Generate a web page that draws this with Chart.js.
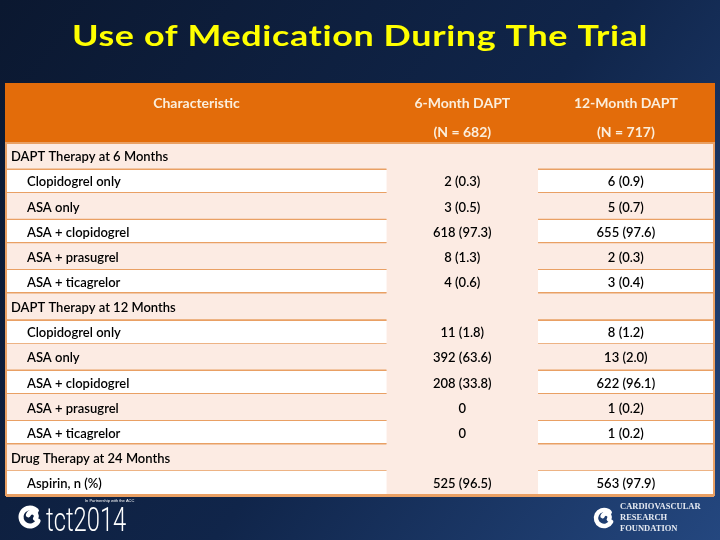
<!DOCTYPE html>
<html>
<head>
<meta charset="utf-8">
<title>Use of Medication During The Trial</title>
<script src="https://cdn.jsdelivr.net/npm/chart.js@4.4.1/dist/chart.umd.min.js"></script>
<style>
  html, body { margin: 0; padding: 0; background: #0c1a34; }
  #wrap { width: 720px; height: 540px; position: relative; }
</style>
</head>
<body>
<div id="wrap"><canvas id="chart" width="720" height="540"></canvas></div>
<script>
const titleText = 'Use of Medication During The Trial';

// table rows, top to bottom
const rowLabels = [
  'DAPT Therapy at 6 Months',
  'Clopidogrel only',
  'ASA only',
  'ASA + clopidogrel',
  'ASA + prasugrel',
  'ASA + ticagrelor',
  'DAPT Therapy at 12 Months',
  'Clopidogrel only',
  'ASA only',
  'ASA + clopidogrel',
  'ASA + prasugrel',
  'ASA + ticagrelor',
  'Drug Therapy at 24 Months',
  'Aspirin, n (%)'
];
const groupRows = [0, 6, 12];

// 6-Month DAPT, n and (%)
const sixMonthN = [null, 2, 3, 618, 8, 4, null, 11, 392, 208, 0, 0, null, 525];
const sixMonthPct = [null, 0.3, 0.5, 97.3, 1.3, 0.6, null, 1.8, 63.6, 33.8, null, null, null, 96.5];

// 12-Month DAPT, n and (%)
const twelveMonthN = [null, 6, 5, 655, 2, 3, null, 8, 13, 622, 1, 1, null, 563];
const twelveMonthPct = [null, 0.9, 0.7, 97.6, 0.3, 0.4, null, 1.2, 2.0, 96.1, 0.2, 0.2, null, 97.9];

const columnTitles = ['Characteristic', '6-Month DAPT', '12-Month DAPT'];
const columnCounts = ['', '(N = 682)', '(N = 717)'];

// layout / style
const colEdges = [0, 0.538, 0.751, 1];
const headerHeight = 59;
const ORANGE = '#e36c0a';
const LINE = '#e9a064';
const PEACH = '#fcebe3';
const FONT = 'Lato, "Open Sans", sans-serif';

const fmt = function (n, p) {
  if (n === null) return '';
  if (p === null) return String(n);
  return n + ' (' + p.toFixed(1) + ')';
};

const swirl = function (ctx, x, y, r, w) {
  ctx.save();
  ctx.strokeStyle = '#ffffff';
  ctx.lineCap = 'round';
  ctx.lineWidth = w;
  ctx.beginPath();
  ctx.arc(x, y, r, Math.PI * 0.15, Math.PI * 1.75);
  ctx.stroke();
  ctx.beginPath();
  ctx.arc(x + r * 0.25, y - r * 0.1, r * 0.45, Math.PI * 1.1, Math.PI * 0.2);
  ctx.stroke();
  ctx.restore();
};

const slidePlugin = {
  id: 'slide',
  beforeDraw: function (chart) {
    const ctx = chart.ctx;
    const area = chart.chartArea;
    const g = ctx.createLinearGradient(0, 0, 720, 540);
    g.addColorStop(0, '#0b1830');
    g.addColorStop(0.55, '#10254a');
    g.addColorStop(1, '#24477f');
    ctx.save();
    ctx.fillStyle = g;
    ctx.fillRect(0, 0, chart.width, chart.height);
    ctx.fillStyle = '#ffffff';
    ctx.fillRect(area.left, area.top, area.right - area.left, area.bottom - area.top);

    // title, stretched to the slide's title width
    ctx.fillStyle = '#ffff00';
    ctx.font = 'bold 29px ' + FONT;
    ctx.letterSpacing = '0.5px';
    ctx.textAlign = 'left';
    ctx.textBaseline = 'alphabetic';
    const tw = ctx.measureText(titleText).width;
    ctx.save();
    ctx.translate(72, 46);
    ctx.scale(576 / tw, 1);
    ctx.fillText(titleText, 0, 0);
    ctx.restore();
    ctx.letterSpacing = '0px';

    // footer: tct2014 and CRF marks
    swirl(ctx, 30, 517, 9, 5);
    ctx.fillStyle = '#ffffff';
    ctx.font = '300 33px Roboto, sans-serif';
    ctx.save();
    ctx.translate(46, 531);
    ctx.scale(0.72, 1);
    ctx.fillText('tct2014', 0, 0);
    ctx.restore();
    ctx.font = '4px sans-serif';
    ctx.fillText('In Partnership with the ACC', 85, 502);

    swirl(ctx, 604, 518, 8, 4.5);
    ctx.fillStyle = '#e6eaf2';
    ctx.font = 'bold 8.5px "Liberation Serif", serif';
    ctx.fillText('CARDIOVASCULAR', 620, 509);
    ctx.fillText('RESEARCH', 620, 520);
    ctx.fillText('FOUNDATION', 620, 531);
    ctx.restore();
  },
  afterDraw: function (chart) {
    const ctx = chart.ctx;
    const area = chart.chartArea;
    const x = chart.scales.x;
    const y = chart.scales.y;
    const colCenter = function (c) {
      return x.getPixelForValue((colEdges[c] + colEdges[c + 1]) / 2);
    };
    const headTop = area.top - headerHeight;

    ctx.save();
    // header band
    ctx.fillStyle = ORANGE;
    ctx.fillRect(area.left, headTop, area.right - area.left, headerHeight);
    ctx.strokeStyle = ORANGE;
    ctx.lineWidth = 2;
    ctx.strokeRect(area.left, headTop, area.right - area.left, headerHeight);
    ctx.strokeStyle = LINE;
    ctx.strokeRect(area.left, area.top, area.right - area.left, area.bottom - area.top);

    ctx.fillStyle = '#fbeedc';
    ctx.textAlign = 'center';
    ctx.textBaseline = 'middle';
    ctx.font = 'bold 14px ' + FONT;
    columnTitles.forEach(function (t, c) {
      ctx.fillText(t, colCenter(c), headTop + 19);
      if (columnCounts[c]) ctx.fillText(columnCounts[c], colCenter(c), headTop + 48);
    });

    // body text
    ctx.fillStyle = '#000000';
    rowLabels.forEach(function (label, i) {
      const py = y.getPixelForValue(i) + 1.5;
      const isGroup = groupRows.indexOf(i) !== -1;
      ctx.font = '600 13px ' + FONT;
      ctx.textAlign = 'left';
      ctx.fillText(label, area.left + (isGroup ? 5 : 21), py);
      ctx.textAlign = 'center';
      ctx.fillText(fmt(sixMonthN[i], sixMonthPct[i]), colCenter(1), py);
      ctx.fillText(fmt(twelveMonthN[i], twelveMonthPct[i]), colCenter(2), py);
    });
    ctx.restore();
  }
};

new Chart(document.getElementById('chart'), {
  type: 'bar',
  data: {
    labels: rowLabels,
    datasets: [
      {
        label: 'shaded rows',
        data: rowLabels.map(function (_, i) { return i % 2 === 0 ? [colEdges[0], colEdges[3]] : null; }),
        backgroundColor: PEACH
      },
      {
        label: '6-month column',
        data: rowLabels.map(function () { return [colEdges[1], colEdges[2]]; }),
        backgroundColor: PEACH
      }
    ]
  },
  options: {
    indexAxis: 'y',
    responsive: false,
    animation: false,
    events: [],
    layout: { padding: { left: 6, right: 6, top: 143, bottom: 45 } },
    datasets: {
      bar: { grouped: false, barPercentage: 1, categoryPercentage: 1, borderWidth: 0 }
    },
    plugins: {
      legend: { display: false },
      tooltip: { enabled: false },
      title: { display: false }
    },
    scales: {
      x: { display: false, min: 0, max: 1 },
      y: {
        display: true,
        z: 1,
        ticks: { display: false },
        border: { display: false },
        grid: {
          drawTicks: false,
          lineWidth: 3,
          color: function (ctx) { return ctx.index === 0 ? 'rgba(0,0,0,0)' : LINE; }
        }
      }
    }
  },
  plugins: [slidePlugin]
});
</script>
</body>
</html>
